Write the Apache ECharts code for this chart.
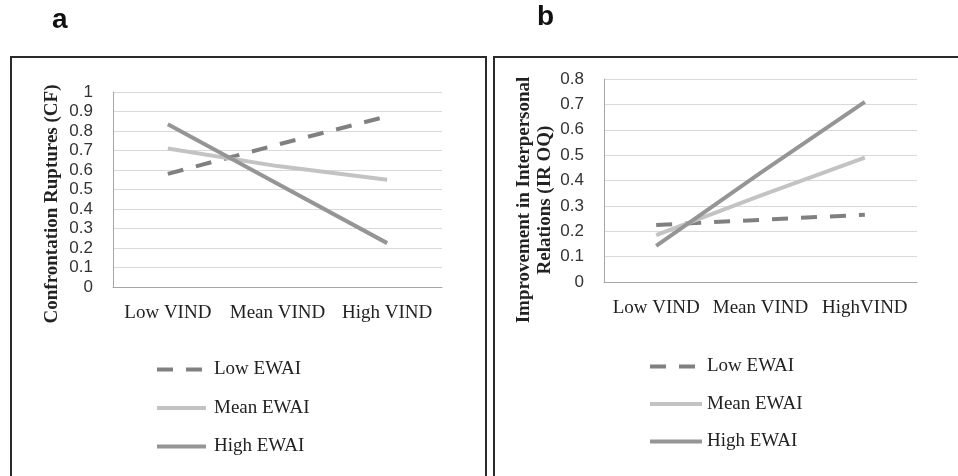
<!DOCTYPE html>
<html>
<head>
<meta charset="utf-8">
<script src="https://cdn.jsdelivr.net/npm/echarts@6/dist/echarts.min.js"></script>
<style>
    html, body { margin: 0; padding: 0; background: #fff; }
    #chart { width: 958px; height: 476px; }
</style>
</head>
<body>
<div id="chart"></div>
<script>
// panel a: Confrontation Ruptures
var categoriesA = ['Low VIND', 'Mean VIND', 'High VIND'];
var lowEwaiA = [0.58, 0.73, 0.875];
var meanEwaiA = [0.71, 0.62, 0.55];
var highEwaiA = [0.835, 0.53, 0.225];

// panel b: Improvement in Interpersonal Relations
var categoriesB = ['Low VIND', 'Mean VIND', 'HighVIND'];
var lowEwaiB = [0.225, 0.245, 0.265];
var meanEwaiB = [0.185, 0.34, 0.49];
var highEwaiB = [0.142, 0.43, 0.71];

var seriesNames = ['Low EWAI', 'Mean EWAI', 'High EWAI'];
var yMaxA = 1, yMaxB = 0.8, yStep = 0.1;

var serif = '"Liberation Serif", "Times New Roman", serif';
var sans = '"Liberation Sans", Arial, sans-serif';
var colors = ['#808080', '#c3c3c3', '#959595'];

var chart = echarts.init(document.getElementById('chart'));

function xAxisOf(idx, cats) {
    return {
        type: 'category',
        gridIndex: idx,
        data: cats,
        boundaryGap: true,
        axisTick: {show: false},
        axisLine: {lineStyle: {color: '#a6a6a6', width: 1}},
        axisLabel: {interval: 0, fontFamily: serif, fontSize: 19, color: '#222', margin: 17}
    };
}

function yAxisOf(idx, max) {
    return {
        type: 'value',
        gridIndex: idx,
        min: 0,
        max: max,
        interval: yStep,
        axisLine: {show: true, lineStyle: {color: '#a6a6a6', width: 1}},
        axisTick: {show: false},
        splitLine: {lineStyle: {color: '#d9d9d9', width: 1}},
        axisLabel: {fontFamily: sans, fontSize: 17, color: '#333', margin: 20}
    };
}

function lineSeries(name, idx, data, color, dashed) {
    return {
        name: name,
        type: 'line',
        xAxisIndex: idx,
        yAxisIndex: idx,
        data: data,
        symbol: 'none',
        silent: true,
        lineStyle: {color: color, width: 4, type: dashed ? [16, 13] : 'solid'},
        itemStyle: {color: color}
    };
}

var option = {
    animation: false,
    grid: [
        {left: 113, top: 92, width: 329, height: 195},
        {left: 604, top: 79, width: 313, height: 203}
    ],
    xAxis: [xAxisOf(0, categoriesA), xAxisOf(1, categoriesB)],
    yAxis: [yAxisOf(0, yMaxA), yAxisOf(1, yMaxB)],
    legend: [
        {
            data: seriesNames,
            orient: 'vertical',
            left: 155,
            top: 360,
            padding: 0,
            itemWidth: 49,
            itemHeight: 19,
            itemGap: 19.5,
            lineStyle: {width: 4},
            itemStyle: {opacity: 0},
            textStyle: {fontFamily: serif, fontSize: 19, color: '#222', lineHeight: 19, padding: [0, 0, 0, 3]}
        },
        {
            data: seriesNames,
            orient: 'vertical',
            left: 648,
            top: 357,
            padding: 0,
            itemWidth: 52,
            itemHeight: 19,
            itemGap: 18.5,
            lineStyle: {width: 4},
            itemStyle: {opacity: 0},
            textStyle: {fontFamily: serif, fontSize: 19, color: '#222', lineHeight: 19}
        }
    ],
    graphic: [
        {type: 'rect', shape: {x: 11, y: 57, width: 475, height: 440}, style: {fill: 'none', stroke: '#2a2a2a', lineWidth: 2}, silent: true},
        {type: 'rect', shape: {x: 494, y: 57, width: 480, height: 440}, style: {fill: 'none', stroke: '#2a2a2a', lineWidth: 2}, silent: true},
        {type: 'text', left: 52, top: 6, style: {text: 'a', font: 'bold 28px ' + sans, fill: '#111'}},
        {type: 'text', left: 537, top: 3, style: {text: 'b', font: 'bold 28px ' + sans, fill: '#111'}},
        {type: 'text', x: 52, y: 204, rotation: Math.PI / 2,
            style: {text: 'Confrontation Ruptures (CF)', font: 'bold 19px ' + serif, fill: '#222', align: 'center', verticalAlign: 'middle'}},
        {type: 'text', x: 524, y: 200, rotation: Math.PI / 2,
            style: {text: 'Improvement in Interpersonal', font: 'bold 19px ' + serif, fill: '#222', align: 'center', verticalAlign: 'middle'}},
        {type: 'text', x: 545, y: 200, rotation: Math.PI / 2,
            style: {text: 'Relations (IR OQ)', font: 'bold 19px ' + serif, fill: '#222', align: 'center', verticalAlign: 'middle'}}
    ],
    series: [
        lineSeries('Low EWAI', 0, lowEwaiA, colors[0], true),
        lineSeries('Mean EWAI', 0, meanEwaiA, colors[1], false),
        lineSeries('High EWAI', 0, highEwaiA, colors[2], false),
        lineSeries('Low EWAI', 1, lowEwaiB, colors[0], true),
        lineSeries('Mean EWAI', 1, meanEwaiB, colors[1], false),
        lineSeries('High EWAI', 1, highEwaiB, colors[2], false)
    ]
};

chart.setOption(option);
</script>
</body>
</html>
